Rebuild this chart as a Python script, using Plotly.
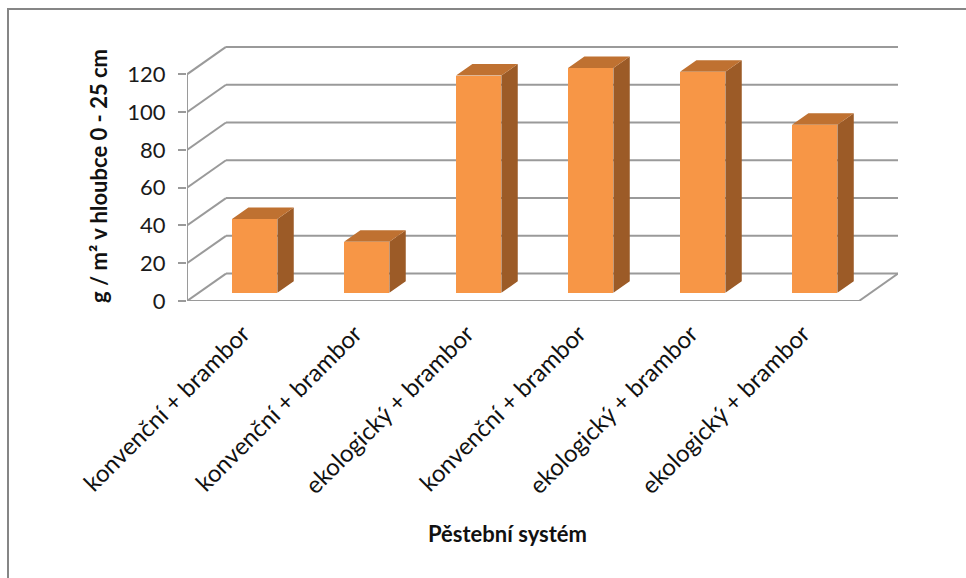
import plotly.graph_objects as go

# ---- data ----
categories = [
    "konvenční + brambor",
    "konvenční + brambor",
    "ekologický + brambor",
    "konvenční + brambor",
    "ekologický + brambor",
    "ekologický + brambor",
]
values = [39, 27, 115, 119, 117, 89]
y_ticks = [0, 20, 40, 60, 80, 100, 120]
y_title = "g / m² v hloubce 0 - 25 cm"
x_title = "Pěstební systém"

# ---- style / geometry ----
W, H = 966, 578
L, R, T, B = 187, 68, 46, 277
PW, PH = W - L - R, H - T - B
DX = 0.348      # depth offset of back wall (category units)
DY = 14.5       # depth offset of back wall (value units)
Y_MAX = 135
F0 = 0.30       # bar front position in depth fraction
FD = 0.42       # bar depth fraction
BW = 0.405      # bar width (category units)
FRONT = "#F79646"
TOP = "#BF7131"
SIDE = "#9C5B27"
GRID = "#9a9a9a"
FONT = "Lato"

n = len(values)
X0, X1 = -0.5, n - 0.5

fig = go.Figure()

# front faces of bars
xs = [i + F0 * DX for i in range(n)]
base = F0 * DY
fig.add_trace(go.Bar(
    x=xs, y=values, base=[base] * n, width=BW,
    marker=dict(color=FRONT, line=dict(width=0)),
    hoverinfo="skip", showlegend=False,
))

# side and top faces
ddx, ddy = FD * DX, FD * DY
sx, sy, tx, ty = [], [], [], []
for xc, v in zip(xs, values):
    xl, xr = xc - BW / 2, xc + BW / 2
    top = base + v
    sx += [xr, xr + ddx, xr + ddx, xr, xr, None]
    sy += [base, base + ddy, top + ddy, top, base, None]
    tx += [xl, xr, xr + ddx, xl + ddx, xl, None]
    ty += [top, top, top + ddy, top + ddy, top, None]
fig.add_trace(go.Scatter(x=sx, y=sy, mode="lines", fill="toself", fillcolor=SIDE,
                         line=dict(width=0, color=SIDE), hoverinfo="skip", showlegend=False))
fig.add_trace(go.Scatter(x=tx, y=ty, mode="lines", fill="toself", fillcolor=TOP,
                         line=dict(width=0, color=TOP), hoverinfo="skip", showlegend=False))

shapes = []
line = dict(color=GRID, width=2)
for t in y_ticks:
    # back wall gridline
    shapes.append(dict(type="line", xref="x", yref="y", x0=X0 + DX, x1=X1 + DX,
                       y0=t + DY, y1=t + DY, line=line, layer="below"))
    # side wall oblique line
    shapes.append(dict(type="line", xref="x", yref="y", x0=X0, x1=X0 + DX,
                       y0=t, y1=t + DY, line=line, layer="below"))
# front vertical axis line
shapes.append(dict(type="line", xref="x", yref="y", x0=X0, x1=X0, y0=0, y1=y_ticks[-1],
                   line=line, layer="below"))
# floor front edge and right edge
shapes.append(dict(type="line", xref="x", yref="y", x0=X0, x1=X1, y0=0, y1=0,
                   line=line, layer="below"))
shapes.append(dict(type="line", xref="x", yref="y", x0=X1, x1=X1 + DX, y0=0, y1=DY,
                   line=line, layer="below"))
# chart border (top and left visible)
px = lambda p: (p - L) / PW
py = lambda p: (H - B - p) / PH
shapes.append(dict(type="rect", xref="paper", yref="paper",
                   x0=px(8), x1=px(975), y0=py(585), y1=py(9),
                   line=dict(color="#868686", width=2), fillcolor="rgba(0,0,0,0)"))

annotations = [
    dict(text=f"<b>{y_title}</b>", xref="paper", yref="paper", x=px(98), y=py(176),
         textangle=-90, showarrow=False, font=dict(family=FONT, size=22, color="#111"),
         xanchor="center", yanchor="middle"),
    dict(text=f"<b>{x_title}</b>", xref="paper", yref="paper", x=px(507), y=py(533),
         showarrow=False, font=dict(family=FONT, size=22, color="#111"),
         xanchor="center", yanchor="middle"),
]

fig.update_layout(
    width=W, height=H,
    margin=dict(l=L, r=R, t=T, b=B, pad=0),
    paper_bgcolor="white", plot_bgcolor="white",
    shapes=shapes, annotations=annotations,
    bargap=0,
    xaxis=dict(range=[X0, X1 + DX], tickvals=list(range(n)), ticktext=categories,
               tickangle=-45, showgrid=False, zeroline=False, showline=False,
               ticks="", ticklabelstandoff=13,
               tickfont=dict(family=FONT, size=24, color="#111")),
    yaxis=dict(range=[0, Y_MAX], tickvals=y_ticks, showgrid=False, zeroline=False,
               showline=False, ticks="outside", ticklen=8, tickwidth=2, tickcolor=GRID,
               ticklabelstandoff=8,
               tickfont=dict(family=FONT, size=22, color="#1a1a1a")),
)

fig.write_html("out.html")
